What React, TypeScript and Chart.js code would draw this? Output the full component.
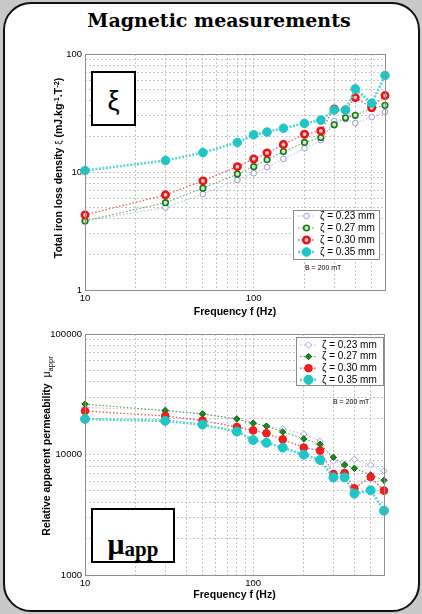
import React, { useEffect, useRef } from "react";
import { Chart, registerables } from "chart.js";

Chart.register(...registerables);

// ---------- data ----------
const freqs = [10, 30, 50, 80, 100, 120, 150, 200, 250, 300, 350, 400, 500, 600];
const seriesLabels = ["ζ = 0.23 mm", "ζ = 0.27 mm", "ζ = 0.30 mm", "ζ = 0.35 mm"];

// Total iron loss density (mJ.kg-1.T-2)
const loss023 = [3.85, 5.0, 6.5, 8.55, 9.75, 11.0, 12.9, 15.9, 18.6, 27.2, 28.0, 26.0, 29.2, 32.2];
const loss027 = [3.85, 5.5, 7.3, 9.6, 11.1, 12.7, 14.9, 17.8, 19.6, 25.1, 28.8, 30.2, 34.6, 36.7];
const loss030 = [4.33, 6.4, 8.4, 11.1, 12.9, 14.5, 17.1, 20.9, 22.3, 34.2, 33.5, 42.7, 35.1, 44.4];
const loss035 = [10.3, 12.5, 14.6, 17.8, 20.7, 21.8, 23.5, 25.8, 27.5, 33.5, 33.5, 50.6, 38.2, 65.7];

// Relative apparent permeability
const perm023 = [24500, 23400, 21700, 19800, 18200, 17200, 16300, 14800, 12900, 8830, 8300, 9120, 8180, 7300];
const perm027 = [26200, 23100, 21700, 19700, 18200, 17200, 15400, 13500, 12150, 9480, 8180, 7680, 6760, 6110];
const perm030 = [22950, 20900, 19100, 16900, 15850, 15000, 13360, 11400, 10770, 6890, 7020, 5240, 6510, 5010];
const perm035 = [19700, 19000, 17700, 15500, 13200, 12500, 11400, 9970, 9000, 6450, 6450, 4730, 5050, 3420];

// ticks
const xTickValues = [10, 20, 30, 40, 50, 60, 70, 80, 90, 100, 200, 300, 400, 500, 600];
const xTickLabels = [10, 100];
const lossTickValues = [1, 2, 3, 4, 5, 6, 7, 8, 9, 10, 20, 30, 40, 50, 60, 70, 80, 90, 100];
const lossTickLabels = [1, 10, 100];
const permTickValues = [
  1000, 2000, 3000, 4000, 5000, 6000, 7000, 8000, 9000,
  10000, 20000, 30000, 40000, 50000, 60000, 70000, 80000, 90000, 100000,
];
const permTickLabels = [1000, 10000, 100000];

// ---------- styles ----------
const SANS = "'Liberation Sans', Arial, sans-serif";

const topStyles = [
  { line: "#b4b4ea", lw: 1, dash: [1.5, 2], ps: "circle", r: 2.8, fill: "#ffffff", stroke: "#9090da", bw: 0.9, order: 3 },
  { line: "#4a9e4a", lw: 1, dash: [1.5, 2], ps: "circle", r: 2.8, fill: "#cfe8c8", stroke: "#1a7a1a", bw: 1.6, order: 2 },
  { line: "#e86060", lw: 1.3, dash: [1.5, 2], ps: "circle", r: 3.2, fill: "#ffd0d0", stroke: "#ee1111", bw: 2.6, order: 1 },
  { line: "#5cd4d4", lw: 2.6, dash: [2, 1.5], ps: "circle", r: 4.3, fill: "#1fc6c6", stroke: "#1fc6c6", bw: 1, order: 0 },
];
const botStyles = [
  { line: "#b8b8ea", lw: 1, dash: [1.5, 2], ps: "rectRot", r: 3.2, fill: "#ffffff", stroke: "#9a9ad8", bw: 0.9, order: 3 },
  { line: "#3f993f", lw: 1, dash: [1.5, 2], ps: "rectRot", r: 3.2, fill: "#1d8a1d", stroke: "#0e640e", bw: 1, order: 2 },
  { line: "#e86060", lw: 1.4, dash: [1.5, 2], ps: "circle", r: 3.8, fill: "#f42020", stroke: "#ee1111", bw: 1, order: 1 },
  { line: "#5cd4d4", lw: 2.6, dash: [2, 1.5], ps: "circle", r: 4.5, fill: "#1fc6c6", stroke: "#1fc6c6", bw: 1, order: 0 },
];

function drawMarker(ctx: any, style: string, r: number, x: number, y: number, fill: string, stroke: string, bw: number) {
  ctx.beginPath();
  if (style === "rectRot") {
    ctx.moveTo(x, y - r);
    ctx.lineTo(x + r, y);
    ctx.lineTo(x, y + r);
    ctx.lineTo(x - r, y);
    ctx.closePath();
  } else {
    ctx.arc(x, y, r, 0, Math.PI * 2);
  }
  ctx.fillStyle = fill;
  ctx.fill();
  ctx.lineWidth = bw;
  ctx.strokeStyle = stroke;
  ctx.stroke();
}

const framePlugin = {
  id: "frameLegend",
  afterDatasetsDraw(chart: any, _args: any, opts: any) {
    const ctx = chart.ctx;
    const a = chart.chartArea;
    ctx.save();
    ctx.strokeStyle = "#8e8e8e";
    ctx.lineWidth = 1;
    ctx.setLineDash([]);
    ctx.strokeRect(Math.round(a.left) + 0.5, Math.round(a.top) + 0.5, Math.round(a.right - a.left), Math.round(a.bottom - a.top));
    if (opts && opts.box) {
      const [bx, by, bw, bh] = opts.box;
      ctx.fillStyle = "#ffffff";
      ctx.fillRect(bx, by, bw, bh);
      ctx.strokeStyle = "#8a8a8a";
      ctx.strokeRect(bx + 0.5, by + 0.5, bw, bh);
      chart.data.datasets.forEach((ds: any, i: number) => {
        const yy = opts.firstY + i * opts.rowH;
        ctx.strokeStyle = ds.borderColor;
        ctx.lineWidth = ds.borderWidth;
        ctx.setLineDash(ds.borderDash || []);
        ctx.beginPath();
        ctx.moveTo(opts.lineX0, yy);
        ctx.lineTo(opts.lineX1, yy);
        ctx.stroke();
        ctx.setLineDash([]);
        drawMarker(ctx, ds.pointStyle, ds.pointRadius, (opts.lineX0 + opts.lineX1) / 2, yy,
          ds.pointBackgroundColor, ds.pointBorderColor, ds.pointBorderWidth);
        ctx.fillStyle = "#000";
        ctx.font = opts.font;
        ctx.textBaseline = "middle";
        ctx.textAlign = "left";
        ctx.fillText(ds.label, opts.textX, yy);
      });
      ctx.font = opts.noteFont;
      ctx.fillStyle = "#000";
      ctx.textBaseline = "middle";
      ctx.textAlign = "left";
      ctx.fillText(opts.note, opts.noteX, opts.noteY);
    }
    ctx.restore();
  },
};

function makeDatasets(series: number[][], styles: any[]) {
  return series.map((vals, i) => {
    const s = styles[i];
    return {
      label: seriesLabels[i],
      data: freqs.map((f, j) => ({ x: f, y: vals[j] })),
      borderColor: s.line,
      borderWidth: s.lw,
      borderDash: s.dash,
      pointStyle: s.ps,
      pointRadius: s.r,
      pointBackgroundColor: s.fill,
      pointBorderColor: s.stroke,
      pointBorderWidth: s.bw,
      tension: 0,
      fill: false,
      clip: false,
      order: s.order,
    };
  });
}

function makeConfig(opts: {
  series: number[][];
  styles: any[];
  yMin: number;
  yMax: number;
  yTicks: number[];
  yLabels: number[];
  padTop: number;
  padRight: number;
  xScaleH: number;
  titlePadBottom: number;
  legend: any;
}) {
  const gridCommon = { color: "#c6c6c6", lineWidth: 1, drawTicks: false };
  return {
    type: "line",
    data: { datasets: makeDatasets(opts.series, opts.styles) },
    options: {
      responsive: false,
      animation: false,
      events: [],
      layout: { padding: { top: opts.padTop, right: opts.padRight, left: 0, bottom: 0 } },
      plugins: {
        legend: { display: false },
        tooltip: { enabled: false },
        frameLegend: opts.legend,
      },
      scales: {
        x: {
          type: "logarithmic",
          min: 10,
          max: 600,
          afterBuildTicks: (s: any) => {
            s.ticks = xTickValues.map((v) => ({ value: v }));
          },
          afterFit: (s: any) => {
            s.height = opts.xScaleH;
          },
          grid: gridCommon,
          border: { display: false, dash: [2, 2] },
          ticks: {
            autoSkip: false,
            maxRotation: 0,
            minRotation: 0,
            padding: 3,
            color: "#000",
            font: { family: SANS, size: 9.5 },
            callback: (v: any) => (xTickLabels.includes(Number(v)) ? String(v) : ""),
          },
          title: {
            display: true,
            text: "Frequency f (Hz)",
            color: "#000",
            font: { family: SANS, size: 10.5, weight: "bold" },
            padding: { top: 0, bottom: opts.titlePadBottom },
          },
        },
        y: {
          type: "logarithmic",
          min: opts.yMin,
          max: opts.yMax,
          afterBuildTicks: (s: any) => {
            s.ticks = opts.yTicks.map((v) => ({ value: v }));
          },
          afterFit: (s: any) => {
            s.width = 85;
          },
          grid: gridCommon,
          border: { display: false, dash: [2, 2] },
          ticks: {
            autoSkip: false,
            padding: 3,
            color: "#000",
            font: { family: SANS, size: 9.5 },
            callback: (v: any) => (opts.yLabels.includes(Number(v)) ? String(v) : ""),
          },
        },
      },
    },
    plugins: [framePlugin],
  } as any;
}

export default function App() {
  const topRef = useRef<HTMLCanvasElement>(null);
  const botRef = useRef<HTMLCanvasElement>(null);

  useEffect(() => {
    const top = new Chart(
      topRef.current as HTMLCanvasElement,
      makeConfig({
        series: [loss023, loss027, loss030, loss035],
        styles: topStyles,
        yMin: 1,
        yMax: 100,
        yTicks: lossTickValues,
        yLabels: lossTickLabels,
        padTop: 14,
        padRight: 37,
        xScaleH: 32,
        titlePadBottom: 4,
        legend: {
          box: [293, 170, 86, 49],
          firstY: 176,
          rowH: 12,
          lineX0: 298,
          lineX1: 315,
          textX: 320,
          font: `10px ${SANS}`,
          note: "B = 200 mT",
          noteX: 305,
          noteY: 228,
          noteFont: `7px ${SANS}`,
        },
      })
    );
    const bot = new Chart(
      botRef.current as HTMLCanvasElement,
      makeConfig({
        series: [perm023, perm027, perm030, perm035],
        styles: botStyles,
        yMin: 1000,
        yMax: 100000,
        yTicks: permTickValues,
        yLabels: permTickLabels,
        padTop: 14,
        padRight: 38,
        xScaleH: 30,
        titlePadBottom: 4,
        legend: {
          box: [296, 17, 87, 48],
          firstY: 25,
          rowH: 11.6,
          lineX0: 300,
          lineX1: 317,
          textX: 322,
          font: `10px ${SANS}`,
          note: "B = 200 mT",
          noteX: 333,
          noteY: 82,
          noteFont: `7px ${SANS}`,
        },
      })
    );
    return () => {
      top.destroy();
      bot.destroy();
    };
  }, []);

  const supStyle: React.CSSProperties = { fontSize: "70%", position: "relative", top: "-0.45em", lineHeight: 0 };
  const subStyle: React.CSSProperties = { fontSize: "72%", position: "relative", top: "0.35em", lineHeight: 0 };

  return (
    <div style={{ position: "absolute", left: 0, top: 0, width: 422, height: 614, background: "#c8c8c8", overflow: "hidden" }}>
      <div
        style={{
          position: "absolute",
          left: 3,
          top: 2,
          width: 417,
          height: 610,
          boxSizing: "border-box",
          border: "2px solid #111",
          borderRadius: 28,
          background: "#ffffff",
        }}
      />
      <div
        style={{
          position: "absolute",
          left: 219,
          top: 8,
          transform: "translateX(-50%)",
          whiteSpace: "nowrap",
          fontFamily: "'DejaVu Serif', 'Liberation Serif', serif",
          fontWeight: "bold",
          fontSize: 19,
          lineHeight: "24px",
          color: "#000",
        }}
      >
        Magnetic measurements
      </div>

      <canvas ref={topRef} width={422} height={282} style={{ position: "absolute", left: 0, top: 40, width: 422, height: 282 }} />
      <canvas ref={botRef} width={422} height={285} style={{ position: "absolute", left: 0, top: 320, width: 422, height: 285 }} />

      {/* rotated y-axis titles */}
      <div style={{ position: "absolute", left: 58, top: 168, width: 0, height: 0 }}>
        <div
          style={{
            position: "absolute",
            left: 0,
            top: 0,
            transform: "translate(-50%, -50%) rotate(-90deg)",
            whiteSpace: "nowrap",
            fontFamily: SANS,
            fontWeight: "bold",
            fontSize: 10.5,
            lineHeight: "12px",
            color: "#000",
          }}
        >
          Total iron loss density <span style={{ fontWeight: "normal", fontSize: "90%" }}>ξ</span> (mJ.kg
          <span style={supStyle}>-1</span>.T<span style={supStyle}>-2</span>)
        </div>
      </div>
      <div style={{ position: "absolute", left: 46, top: 446, width: 0, height: 0 }}>
        <div
          style={{
            position: "absolute",
            left: 0,
            top: 0,
            transform: "translate(-50%, -50%) rotate(-90deg)",
            whiteSpace: "nowrap",
            fontFamily: SANS,
            fontWeight: "bold",
            fontSize: 10.5,
            lineHeight: "12px",
            color: "#000",
          }}
        >
          Relative apparent permeability{"\u00a0\u00a0"}
          <span style={{ fontWeight: "normal" }}>
            μ<span style={subStyle}>appr</span>
          </span>
        </div>
      </div>

      {/* symbol boxes */}
      <div
        style={{
          position: "absolute",
          left: 91,
          top: 71,
          width: 45,
          height: 55,
          boxSizing: "border-box",
          border: "2px solid #000",
          background: "#fff",
        }}
      >
        <div
          style={{
            position: "absolute",
            left: 0,
            right: 0,
            top: 15,
            textAlign: "center",
            fontFamily: SANS,
            fontSize: 27,
            lineHeight: "27px",
            color: "#000",
          }}
        >
          ξ
        </div>
      </div>
      <div
        style={{
          position: "absolute",
          left: 91,
          top: 508,
          width: 84,
          height: 55,
          boxSizing: "border-box",
          border: "2px solid #000",
          background: "#fff",
        }}
      >
        <div
          style={{
            position: "absolute",
            left: 0,
            right: 0,
            top: 19,
            textAlign: "center",
            fontFamily: "'Liberation Serif', 'Times New Roman', serif",
            fontWeight: "bold",
            fontSize: 30,
            lineHeight: "30px",
            color: "#000",
            whiteSpace: "nowrap",
          }}
        >
          μ<span style={{ fontSize: 21, position: "relative", top: 2 }}>app</span>
        </div>
      </div>
    </div>
  );
}
